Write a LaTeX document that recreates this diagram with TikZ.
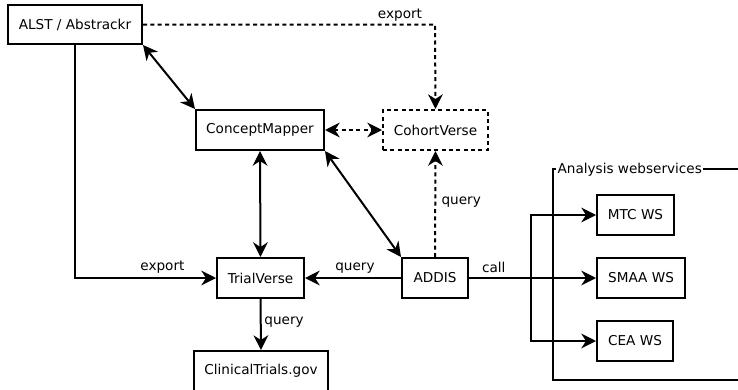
\documentclass[tikz,border=0pt]{standalone}
\usepackage{fontspec}
\setmainfont{DejaVu Sans}
\usetikzlibrary{arrows.meta}
\begin{document}
\begin{tikzpicture}[x=0.75pt,y=-0.75pt,
  font=\fontsize{10.2pt}{12pt}\selectfont,
  box/.style={draw,line width=1.5pt,minimum height=30pt,inner sep=0pt},
  dbox/.style={box,dash pattern=on 3pt off 2.5pt},
  conn/.style={line width=1.5pt,-{Stealth[length=11pt,width=11pt,inset=3.5pt]}},
  bconn/.style={line width=1.5pt,{Stealth[length=11pt,width=11pt,inset=3.5pt]}-{Stealth[length=11pt,width=11pt,inset=3.5pt]}},
  dsh/.style={dash pattern=on 3pt off 2.5pt},
  lbl/.style={inner sep=1pt}]
\useasboundingbox (0,0) rectangle (738,389);
\node[box,minimum width=100.5pt,minimum height=29.25pt] (alst) at (75,24.5) {ALST / Abstrackr};
\node[box,minimum width=96pt] (cm) at (260,130) {ConceptMapper};
\node[dbox,minimum width=78.75pt] (cv) at (435.5,130) {CohortVerse};
\node[box,minimum width=65.25pt] (tv) at (260.5,278) {TrialVerse};
\node[box,minimum width=49.5pt] (addis) at (435,278) {ADDIS};
\node[box,minimum width=100.5pt] (ct) at (261,371) {ClinicalTrials.gov};
\node[box,minimum width=57.75pt] (mtc) at (635.5,215) {MTC WS};
\node[box,minimum width=66pt] (smaa) at (641,278) {SMAA WS};
\node[box,minimum width=57pt] (cea) at (635,341) {CEA WS};
% frame
\coordinate (ftl) at (553,169);
\coordinate (fbl) at (553,380);
\coordinate (ftr) at (745,169);
\coordinate (fbr) at (745,380);
\draw[line width=1.5pt] (ftr) -- (ftl) -- (fbl) -- (fbr);
\node[anchor=west,fill=white,inner sep=1pt] (fl) at (556,170) {Analysis webservices};
% connectors
\coordinate (k1) at (75,278);
\draw[conn] (alst.south) -- (k1) -- node[lbl,above,pos=0.62,yshift=2pt] {export} (tv.west);
\coordinate (k2) at (435,24.5);
\draw[conn,dsh] (alst.east) -- node[lbl,above,pos=0.88,yshift=1pt] {export} (k2) -- (cv.north);
\draw[bconn] (alst.south east) -- (cm.north west);
\draw[bconn,dsh] (cm.east) -- (cv.west);
\draw[bconn] (cm.south) -- (tv.north);
\draw[bconn] (cm.south east) -- (addis.north west);
\draw[conn,dsh] (addis.north) -- node[lbl,right,xshift=3pt,pos=0.52] {query} (cv.south);
\draw[conn] (addis.west) -- node[lbl,above,pos=0.48,yshift=2pt] {query} (tv.east);
\draw[conn] (tv.south) -- node[lbl,right,xshift=1pt,pos=0.45] {query} (ct.north);
\coordinate (j) at (531,278);
\draw[conn] (addis.east) -- node[lbl,above,pos=0.4,yshift=2.5pt] {call} (j) -- (smaa.west);
\draw[conn] (j) |- (mtc.west);
\draw[conn] (j) |- (cea.west);
\end{tikzpicture}
\end{document}
